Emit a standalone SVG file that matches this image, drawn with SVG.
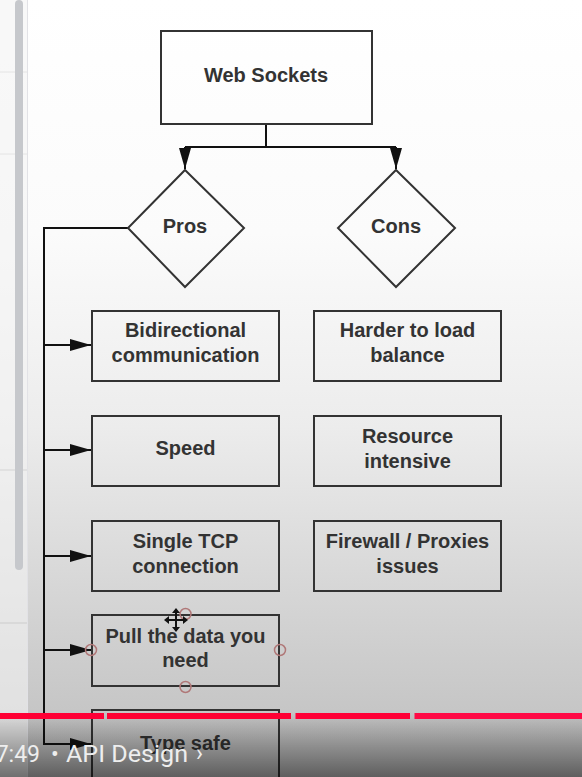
<svg xmlns="http://www.w3.org/2000/svg" width="582" height="777" viewBox="0 0 582 777">
<style>
.box{fill:none;stroke:#333;stroke-width:2}
.lbl{font-family:"Liberation Sans",Arial,sans-serif;font-weight:bold;font-size:20px;fill:#333;text-anchor:middle}
.conn{fill:none;stroke:#111;stroke-width:2}
.handle{fill:none;stroke:#b07878;stroke-width:1.5}
.yt{font-family:Roboto,"Liberation Sans",sans-serif;font-size:23px;fill:#eeeeee}
</style>
<defs>
<linearGradient id="bg" x1="0" y1="0" x2="0" y2="1">
<stop offset="0" stop-color="#ffffff"/>
<stop offset="0.3" stop-color="#fbfbfb"/>
<stop offset="0.55" stop-color="#ececec"/>
<stop offset="0.8" stop-color="#d2d2d2"/>
<stop offset="1" stop-color="#bdbdbd"/>
</linearGradient>
<linearGradient id="shade" x1="0" y1="0" x2="0" y2="1">
<stop offset="0" stop-color="#000" stop-opacity="0"/>
<stop offset="1" stop-color="#000" stop-opacity="0.5"/>
</linearGradient>
<linearGradient id="bar" x1="0" y1="0" x2="1" y2="0">
<stop offset="0" stop-color="#ff0033"/>
<stop offset="1" stop-color="#ff0036"/>
</linearGradient>
<marker id="arr" markerUnits="userSpaceOnUse" markerWidth="22" markerHeight="14" refX="21" refY="7" orient="auto">
<path d="M0,1 L21,7 L0,13 Z" fill="#111"/>
</marker>
</defs>
<rect x="0" y="0" width="582" height="777" fill="url(#bg)"/>
<g id="sidebar">
<rect x="0" y="0" width="28" height="777" fill="#f4f4f4" opacity="0.6"/>
<line x1="27.5" y1="0" x2="27.5" y2="777" stroke="#e2e2e6" stroke-width="1"/>
<line x1="0" y1="72" x2="27" y2="72" stroke="#e4e4e4" stroke-width="1"/>
<line x1="0" y1="154" x2="27" y2="154" stroke="#e4e4e4" stroke-width="1"/>
<line x1="0" y1="470" x2="27" y2="470" stroke="#d4d4d4" stroke-width="1"/>
<line x1="0" y1="623" x2="27" y2="623" stroke="#cccccc" stroke-width="1"/>
<rect x="15" y="0" width="8" height="570" rx="4" fill="#c6c8cc"/>
</g>
<g id="connectors">
<line class="conn" x1="266" y1="124" x2="266" y2="147"/>
<line class="conn" x1="185" y1="147" x2="396" y2="147"/>
<line class="conn" x1="185" y1="147" x2="185" y2="169" marker-end="url(#arr)"/>
<line class="conn" x1="396" y1="147" x2="396" y2="169" marker-end="url(#arr)"/>
<polyline class="conn" points="128,228 44,228 44,744"/>
<line class="conn" x1="44" y1="345" x2="91" y2="345" marker-end="url(#arr)"/>
<line class="conn" x1="44" y1="450" x2="91" y2="450" marker-end="url(#arr)"/>
<line class="conn" x1="44" y1="556" x2="91" y2="556" marker-end="url(#arr)"/>
<line class="conn" x1="44" y1="650" x2="91" y2="650" marker-end="url(#arr)"/>
<line class="conn" x1="43" y1="744" x2="91" y2="744" marker-end="url(#arr)"/>
</g>
<g id="web-sockets">
<rect class="box" x="161" y="31" width="211" height="93"/>
<text class="lbl" x="266" y="82">Web Sockets</text>
</g>
<g id="pros">
<polygon class="box" points="185,170 244,228 185,287 128,228"/>
<text class="lbl" x="185" y="233">Pros</text>
</g>
<g id="cons">
<polygon class="box" points="396,170 455,228 396,287 338,228"/>
<text class="lbl" x="396" y="233">Cons</text>
</g>
<g id="bidirectional">
<rect class="box" x="92" y="311" width="187" height="70"/>
<text class="lbl" x="185.5" y="337">Bidirectional</text>
<text class="lbl" x="185.5" y="362">communication</text>
</g>
<g id="speed">
<rect class="box" x="92" y="416" width="187" height="70"/>
<text class="lbl" x="185.5" y="455">Speed</text>
</g>
<g id="single-tcp">
<rect class="box" x="92" y="521" width="187" height="70"/>
<text class="lbl" x="185.5" y="548">Single TCP</text>
<text class="lbl" x="185.5" y="573">connection</text>
</g>
<g id="pull-data">
<rect class="box" x="92" y="615" width="187" height="71"/>
<text class="lbl" x="185.5" y="643">Pull the data you</text>
<text class="lbl" x="185.5" y="667">need</text>
<circle class="handle" cx="185.5" cy="614" r="5.5"/>
<circle class="handle" cx="91" cy="650" r="5.5"/>
<circle class="handle" cx="280" cy="650" r="5.5"/>
<circle class="handle" cx="185.5" cy="687" r="5.5"/>
</g>
<g id="type-safe">
<rect class="box" x="92" y="710" width="187" height="80"/>
<text class="lbl" x="185.5" y="750">Type safe</text>
</g>
<g id="harder-load">
<rect class="box" x="314" y="311" width="187" height="70"/>
<text class="lbl" x="407.5" y="337">Harder to load</text>
<text class="lbl" x="407.5" y="362">balance</text>
</g>
<g id="resource">
<rect class="box" x="314" y="416" width="187" height="70"/>
<text class="lbl" x="407.5" y="443">Resource</text>
<text class="lbl" x="407.5" y="468">intensive</text>
</g>
<g id="firewall">
<rect class="box" x="314" y="521" width="187" height="70"/>
<text class="lbl" x="407.5" y="548">Firewall / Proxies</text>
<text class="lbl" x="407.5" y="573">issues</text>
</g>
<g id="cursor" fill="#111" stroke="#111">
<line x1="176" y1="610" x2="176" y2="630" stroke-width="2"/>
<line x1="166" y1="620" x2="186" y2="620" stroke-width="2"/>
<path d="M176,608 L172,613 L180,613 Z M176,632 L172,627 L180,627 Z M164,620 L169,616 L169,624 Z M188,620 L183,616 L183,624 Z" stroke="none"/>
</g>
<g id="overlay">
<rect x="0" y="712" width="582" height="65" fill="url(#shade)"/>
<rect x="0" y="713" width="104" height="6" fill="url(#bar)"/>
<rect x="107" y="713" width="184" height="6" fill="#ff0033"/>
<rect x="295.5" y="713" width="114.5" height="6" fill="#ff0036"/>
<rect x="414.5" y="713" width="167.5" height="6" fill="#ff0a45"/>
<text class="yt" x="40" y="762" text-anchor="end">7:49</text>
<text class="yt" x="55" y="762" text-anchor="middle">•</text>
<text class="yt" x="66" y="762" textLength="122" lengthAdjust="spacingAndGlyphs">API Design</text>
<text class="yt" x="196" y="761">›</text>
</g>
</svg>
